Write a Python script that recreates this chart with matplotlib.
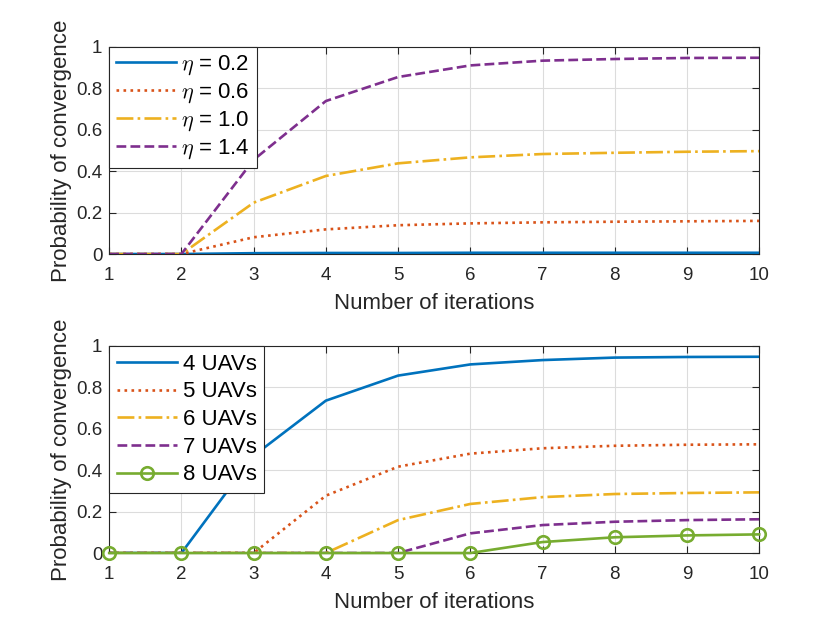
import matplotlib
matplotlib.use('Agg')
import matplotlib.pyplot as plt

plt.rcParams['font.family'] = ['Liberation Sans', 'DejaVu Sans']
plt.rcParams['mathtext.fontset'] = 'cm'

# Data
iterations = [1, 2, 3, 4, 5, 6, 7, 8, 9, 10]

eta_labels = [r'$\eta$ = 0.2', r'$\eta$ = 0.6', r'$\eta$ = 1.0', r'$\eta$ = 1.4']
eta_02 = [0, 0, 0.004, 0.005, 0.005, 0.006, 0.006, 0.006, 0.006, 0.006]
eta_06 = [0, 0, 0.081, 0.119, 0.139, 0.148, 0.153, 0.156, 0.158, 0.160]
eta_10 = [0, 0, 0.248, 0.377, 0.438, 0.467, 0.483, 0.489, 0.494, 0.497]
eta_14 = [0, 0, 0.455, 0.739, 0.855, 0.911, 0.934, 0.942, 0.947, 0.948]

uav_labels = ['4 UAVs', '5 UAVs', '6 UAVs', '7 UAVs', '8 UAVs']
uav_4 = [0, 0, 0.47, 0.736, 0.857, 0.911, 0.932, 0.944, 0.947, 0.948]
uav_5 = [0, 0, 0, 0.277, 0.417, 0.480, 0.506, 0.518, 0.523, 0.525]
uav_6 = [0, 0, 0, 0, 0.159, 0.237, 0.270, 0.285, 0.290, 0.293]
uav_7 = [0, 0, 0, 0, 0, 0.095, 0.135, 0.151, 0.159, 0.163]
uav_8 = [0, 0, 0, 0, 0, 0, 0.053, 0.076, 0.085, 0.090]

colors = ['#0072BD', '#D95319', '#EDB120', '#7E2F8E', '#77AC30']
styles = ['-', ':', '-.', '--']

fig = plt.figure(figsize=(8.4, 6.3), dpi=100)
ax1 = fig.add_axes([0.13, 0.5968, 0.7738, 0.3286])
ax2 = fig.add_axes([0.13, 0.1222, 0.7738, 0.3286])


def style_axes(ax):
    ax.set_xlim(1, 10)
    ax.set_ylim(0, 1)
    ax.set_xticks(iterations)
    ax.set_yticks([0, 0.2, 0.4, 0.6, 0.8, 1])
    ax.set_yticklabels(['0', '0.2', '0.4', '0.6', '0.8', '1'])
    ax.grid(True, color='#dcdcdc', linewidth=0.8)
    ax.set_axisbelow(True)
    ax.tick_params(direction='in', top=True, right=True, labelsize=13.5,
                   length=5, colors='#262626', labelcolor='#262626')
    ax.tick_params(axis='x', pad=9)
    ax.tick_params(axis='y', pad=5)
    for s in ax.spines.values():
        s.set_color('#262626')
        s.set_linewidth(0.8)
    ax.set_xlabel('Number of iterations', fontsize=16, color='#262626', labelpad=7)
    ax.set_ylabel('Probability of convergence', fontsize=16, color='#262626', labelpad=3)


def add_legend(ax, spacing, bpad):
    leg = ax.legend(loc='upper left', fontsize=16, frameon=True, fancybox=False,
                    edgecolor='#262626', borderaxespad=0, handlelength=2.7,
                    borderpad=bpad, labelspacing=spacing, handletextpad=0.25)
    leg.get_frame().set_linewidth(0.8)
    leg.get_frame().set_alpha(1)


# Top panel: different eta
eta_series = [eta_02, eta_06, eta_10, eta_14]
for vals, lab, c, ls in zip(eta_series, eta_labels, colors, styles):
    ax1.plot(iterations, vals, color=c, linestyle=ls, linewidth=1.9, label=lab)
style_axes(ax1)
add_legend(ax1, 0.2, 0.3)

# Bottom panel: number of UAVs
uav_series = [uav_4, uav_5, uav_6, uav_7]
for vals, lab, c, ls in zip(uav_series, uav_labels, colors, styles):
    ax2.plot(iterations, vals, color=c, linestyle=ls, linewidth=1.9, label=lab)
ax2.plot(iterations, uav_8, color=colors[4], linestyle='-', linewidth=1.9,
         marker='o', markersize=9, markerfacecolor='none', markeredgewidth=1.9,
         label=uav_labels[4], clip_on=False, zorder=3)
style_axes(ax2)
add_legend(ax2, 0.3, 0.35)

fig.savefig('out.png', dpi=100, facecolor='white')
